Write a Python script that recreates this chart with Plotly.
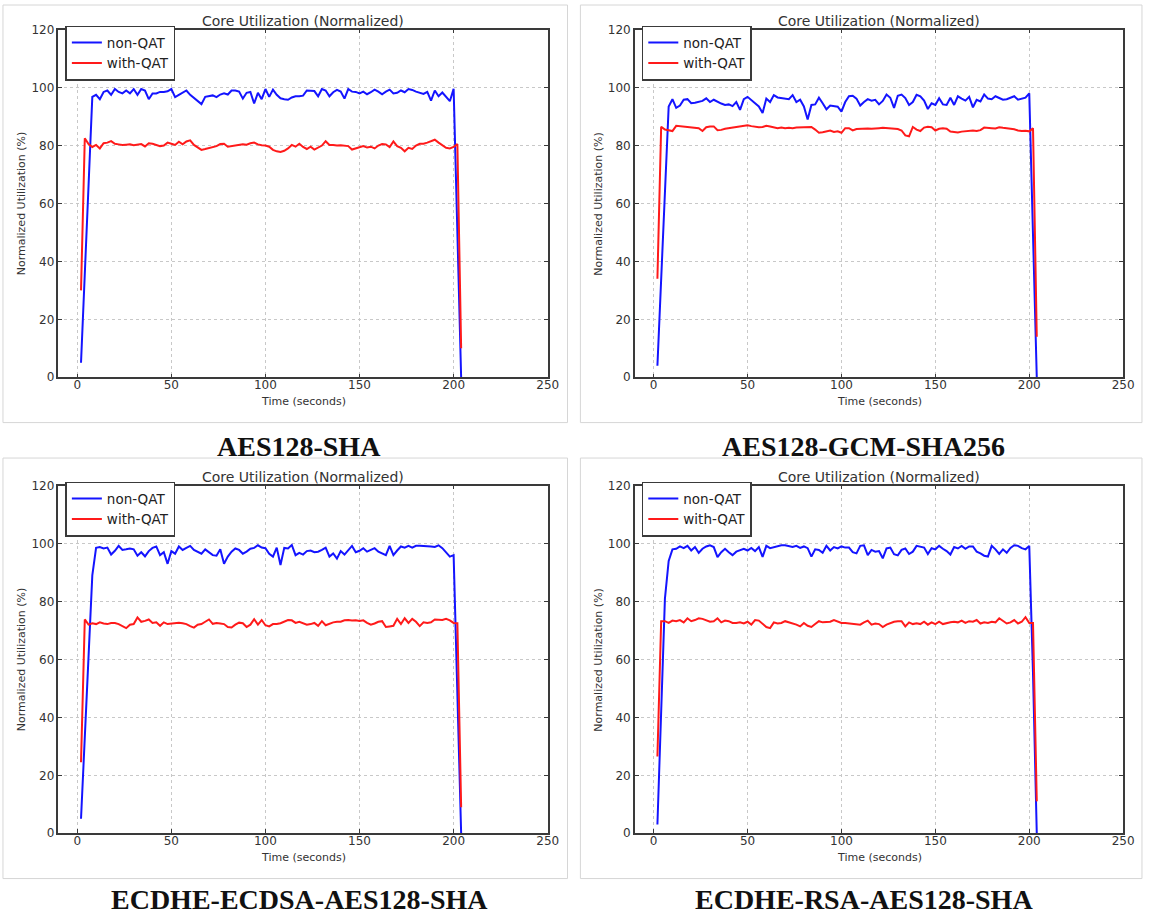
import plotly.graph_objects as go

W, H = 1151, 921

# ---------------- data ----------------
TIME = list(range(2, 206, 2))  # sampling grid, seconds (2 .. 204)

X_TICKS = [0, 50, 100, 150, 200, 250]
Y_TICKS = [0, 20, 40, 60, 80, 100, 120]

CAPTIONS = ["AES128-SHA", "AES128-GCM-SHA256",
            "ECDHE-ECDSA-AES128-SHA", "ECDHE-RSA-AES128-SHA"]
SERIES_NAMES = ["non-QAT", "with-QAT"]
PLOT_TITLE = "Core Utilization (Normalized)"
X_LABEL = "Time (seconds)"
Y_LABEL = "Normalized Utilization (%)"

# AES128-SHA
non_qat_aes128_sha = [
    5, 35, 66, 96.8, 97.5, 96, 98.5, 99, 97.5, 99.5,
    98.5, 98, 99, 98, 99.5, 97.5, 99.5, 99, 96, 98,
    98, 98.5, 98.5, 98.7, 99.5, 96.7, 97.5, 98.3, 99, 97.5,
    96.5, 95.5, 94.3, 96.8, 97, 97.3, 96.7, 97.6, 98, 97.6,
    99, 99, 98.6, 96.2, 98.2, 98.5, 94.5, 98.2, 96, 99.5,
    96.8, 99.3, 97.5, 96.3, 96, 95.8, 96.6, 97, 97, 97.2,
    99, 99, 98.8, 97, 99.5, 99, 97, 98.4, 99.2, 98.6,
    96.2, 99.5, 98.6, 98.5, 98, 98.6, 97.7, 98.4, 99.3, 98.6,
    97.7, 98.6, 99.3, 98, 98.2, 99, 98.4, 99.5, 99.2, 98.6,
    98.3, 97.8, 98.5, 95.5, 99, 97, 98.3, 96.8, 95.3, 99.6,
    49.8, 0,
]
with_qat_aes128_sha = [
    30, 82.5, 80.5, 79.5, 80.2, 79, 80.8, 81, 81.5, 80.6,
    80.4, 80.2, 80.3, 80.4, 80.1, 80.2, 80.5, 79.7, 80.8, 80.6,
    80.2, 79.8, 80, 81, 80.6, 80.2, 81.3, 80.4, 81.4, 81.8,
    80.2, 79.2, 78.5, 78.8, 79.2, 79.5, 79.8, 80.5, 80.6, 79.6,
    79.8, 79.8, 80.2, 80.4, 80.3, 80.8, 81, 80.4, 80.1, 80,
    79.6, 78.5, 78, 77.8, 78.2, 79, 80.2, 79.6, 80.6, 79.5,
    78.8, 79.6, 78.6, 79.4, 80, 81.5, 80.2, 80.2, 80, 80.1,
    79.9, 79.8, 78.6, 79, 79.4, 79.8, 79.3, 79.6, 79, 80,
    80.5, 80.4, 79.5, 81.4, 79.8, 79.2, 78, 79.2, 78.8, 80,
    80.6, 80.6, 81, 81.5, 82, 81, 80, 79.2, 79, 79.5,
    80.5, 10,
]

# AES128-GCM-SHA256
non_qat_aes128_gcm = [
    4, 33, 63, 93.5, 96, 93, 93.8, 95.8, 96, 94.6,
    94.8, 95.2, 95.4, 96.3, 95, 95.8, 95, 94.5, 94, 94.2,
    93.6, 95, 92.3, 96, 96.8, 95.8, 94.8, 93.5, 91.2, 96.2,
    95, 97.4, 96.6, 96.4, 96.2, 96, 97.4, 95, 95.8, 93.5,
    89, 94, 94.2, 96.5, 94.6, 92.5, 93.8, 93.6, 93.4, 91.7,
    95, 97, 97.2, 96.2, 93.8, 95, 96, 95.5, 95.8, 94.2,
    95.4, 97.6, 96.5, 93, 97.2, 97.6, 96.4, 94, 95, 97.5,
    97, 95.5, 92.6, 94.6, 94, 96.3, 94.2, 94, 96.5, 94,
    97, 96.2, 95.5, 96.8, 93.2, 95.8, 95.2, 97.6, 96.2, 96,
    97, 96.4, 95.8, 96, 96.4, 97, 95.8, 96.2, 96.5, 98,
    49, 0,
]
with_qat_aes128_gcm = [
    34, 86.5, 85.5, 85.2, 85, 86.8, 86.7, 86.5, 86.5, 86.2,
    86.3, 86, 85, 86.3, 86.6, 86.6, 85.3, 85.4, 85.8, 86,
    86, 86.2, 86.6, 86.8, 87, 86.7, 86.5, 86.3, 86.4, 86.8,
    86.6, 86.3, 86, 86.2, 86, 86.1, 86, 86.2, 86.3, 86.2,
    86.3, 86.4, 85.5, 84.4, 84.6, 85, 85.2, 84.7, 84.9, 84.4,
    86, 86, 85.2, 85.7, 85.8, 85.8, 85.9, 85.8, 86, 86,
    86.1, 86, 86, 86, 85.7, 85.2, 83.5, 83.2, 86.4, 85.5,
    85, 86.2, 86.5, 86.3, 85.2, 85.8, 86, 85.8, 84.8, 84.7,
    84.5, 84.8, 85, 85.2, 85.2, 85, 85.3, 86.2, 86, 86,
    85.9, 86.3, 86.1, 86, 85.8, 85.6, 85.2, 85, 85.1, 84.9,
    86, 14,
]

# ECDHE-ECDSA-AES128-SHA
non_qat_ecdsa = [
    5, 33, 61, 89, 98.5, 98.8, 98.3, 98.6, 96.2, 97.5,
    99.2, 97.8, 98, 98.3, 98, 95.8, 97, 95.6, 97.4, 98.5,
    99, 96, 97, 93, 97.4, 96.5, 99, 97.8, 98.5, 99.2,
    97.8, 97.2, 96.5, 98, 97, 96, 95.8, 98, 93, 95.5,
    97.2, 98.3, 97.8, 96.5, 97.2, 98.2, 98.5, 99.4, 98.6, 98.4,
    96.5, 95.5, 98.6, 92.6, 98.5, 98.3, 99.5, 96, 96.8, 96.2,
    97.4, 97.6, 97, 97.2, 97.8, 98.6, 95.5, 96.6, 94.8, 97.4,
    96.2, 97.8, 99.2, 97, 97.5, 98.4, 97.2, 97.8, 98.4, 97.2,
    96.5, 96, 99.2, 96, 97.6, 99, 98.6, 99.2, 98.6, 99.2,
    99.2, 99.2, 99.2, 99, 98.8, 99.4, 98.4, 97, 95.5, 96,
    48, 0,
]
with_qat_ecdsa = [
    24.5, 73.8, 72, 72.5, 72.2, 72.8, 72.4, 72.2, 72.6, 72.6,
    72.2, 71.5, 70.8, 72, 72.2, 74.5, 73, 73.3, 73.8, 72.6,
    72.8, 71.6, 72.8, 72.2, 72.4, 72.5, 72.7, 72.5, 72.2, 71.5,
    71, 72, 72.2, 73, 73.8, 72.3, 72.6, 72.4, 72.2, 71.2,
    71, 72, 72.7, 72.5, 71.2, 72, 73.9, 72, 73.6, 71.8,
    71.4, 72.2, 72.2, 72.5, 73, 73.6, 73.5, 72.6, 73, 72.6,
    72, 72.2, 72.6, 71.6, 73.2, 71.8, 72.4, 72.8, 73, 73,
    73.5, 73.6, 73.4, 73.5, 73.3, 73.5, 72.6, 72, 72.4, 73,
    73.2, 71.2, 71.4, 71.6, 74, 72.2, 74.2, 72.6, 74, 73,
    71.5, 72.8, 72.6, 72.8, 73.8, 73.6, 73.6, 74, 73.5, 72.6,
    72.5, 9,
]

# ECDHE-RSA-AES128-SHA
non_qat_rsa = [
    3, 42, 81, 94, 98, 98.2, 99, 98.4, 99.2, 97.6,
    98.8, 96.8, 98.2, 99, 99.4, 98.8, 95.3, 97, 98.2, 97,
    96, 97.2, 97.6, 98.2, 97.6, 98.5, 97.4, 98.8, 95.4, 99.2,
    98.4, 98.8, 99.2, 99.4, 99.4, 99.2, 98.8, 99.2, 98.5, 99,
    98.4, 95.5, 98, 97.8, 96.8, 99.2, 97.6, 98.8, 98.3, 99,
    98.6, 98.6, 97, 96.6, 99.2, 99.4, 96, 97.8, 97.2, 97.4,
    94.9, 98.3, 98.6, 96.3, 95.9, 97.8, 98.3, 96.4, 97.2, 99.2,
    98.8, 98.6, 96.4, 98.4, 98, 99.2, 98.2, 97.4, 96.2, 98.8,
    98.3, 99.2, 98.2, 99, 99, 97.2, 96.6, 95.8, 95.5, 99.2,
    98, 96.4, 98, 96.8, 98.5, 99.4, 99.2, 98.4, 98, 99.2,
    55, 0,
]
with_qat_rsa = [
    26.5, 73.2, 73.2, 72.6, 73.4, 73.2, 73.6, 72.8, 74.2, 73.2,
    73.6, 74.2, 74, 73.4, 73, 73.2, 74.2, 72.8, 73.4, 73.2,
    72.6, 72.6, 72.8, 72.4, 73, 72, 73.6, 73.4, 72.4, 71.2,
    70.8, 72.8, 72.4, 72.6, 73.2, 72.8, 72.6, 72, 71.4, 72.6,
    71.6, 71.2, 72.2, 73.2, 72.8, 72.8, 73, 73.6, 73.2, 72.6,
    72.6, 72.4, 72.2, 72, 72, 72.8, 73.4, 72, 72.4, 72.2,
    71.2, 72, 72.6, 73, 73.2, 73.2, 71.4, 72.8, 72.2, 72.5,
    72.2, 73, 72, 72.8, 72.2, 73, 72.2, 72.6, 72.8, 73,
    72.8, 73.4, 72.6, 73.2, 73, 73.6, 72.4, 72.8, 72.6, 73,
    72.8, 74.2, 73.2, 72.4, 72.8, 73.6, 72.4, 73, 74.6, 72.6,
    72.6, 11,
]

NON_QAT = [non_qat_aes128_sha, non_qat_aes128_gcm, non_qat_ecdsa, non_qat_rsa]
WITH_QAT = [with_qat_aes128_sha, with_qat_aes128_gcm, with_qat_ecdsa, with_qat_rsa]

# ---------------- layout geometry (pixels) ----------------
def px(x):
    return x / W

def py(y):
    return 1 - y / H

# plot boxes: (left, right, top, bottom)
BOXES = [(59, 553, 23, 376), (641, 1134, 23, 376),
         (59, 553, 486, 839), (641, 1134, 486, 839)]
CARDS = [(3, -2, 573, 422), (586, -2, 1153, 422),
         (3, 458, 573, 885), (586, 458, 1153, 885)]
CAPTION_POS = [(302, 446), (872, 446), (302, 906), (872, 906)]

BLUE = "#1414ff"
RED = "#ff1a1a"
FRAME = "#3a3a3a"
TEXT = "#333333"
FONT = "DejaVu Sans"

fig = go.Figure()
layout = dict(
    width=W, height=H,
    margin=dict(l=0, r=0, t=0, b=0),
    paper_bgcolor="white", plot_bgcolor="white",
    showlegend=True,
    annotations=[], shapes=[],
)

for i in range(4):
    n = i + 1
    sfx = "" if n == 1 else str(n)
    xa, ya = "x" + sfx, "y" + sfx
    leg = "legend" + sfx
    l, r, t, b = BOXES[i]

    fig.add_trace(go.Scatter(x=TIME, y=NON_QAT[i], mode="lines", name=SERIES_NAMES[0],
                             line=dict(color=BLUE, width=2), xaxis=xa, yaxis=ya,
                             legend=leg, hoverinfo="skip"))
    fig.add_trace(go.Scatter(x=TIME, y=WITH_QAT[i], mode="lines", name=SERIES_NAMES[1],
                             line=dict(color=RED, width=2), xaxis=xa, yaxis=ya,
                             legend=leg, hoverinfo="skip"))

    common = dict(showline=True, linecolor=FRAME, linewidth=1.5, mirror="allticks",
                  ticks="inside", ticklen=4, tickwidth=1, tickcolor=FRAME,
                  showgrid=True, gridcolor="#c8c8c8", griddash="dot", gridwidth=1,
                  zeroline=False, tickfont=dict(family=FONT, size=12, color=TEXT),
                  fixedrange=True)
    layout["xaxis" + sfx] = dict(common, domain=[px(l), px(r)], anchor=ya,
                                 range=[-10, 250], tickmode="array", tickvals=X_TICKS,
                                 ticktext=[str(v) for v in X_TICKS],
                                 ticklabelstandoff=-4)
    layout["yaxis" + sfx] = dict(common, domain=[py(b), py(t)], anchor=xa,
                                 range=[0, 120], tickmode="array", tickvals=Y_TICKS,
                                 ticktext=[str(v) for v in Y_TICKS])

    layout[leg] = dict(x=px(l + 7), y=py(t - 4), xanchor="left", yanchor="top",
                       bgcolor="white", bordercolor=FRAME, borderwidth=1.5,
                       font=dict(family=FONT, size=13.5, color="#222222"),
                       entrywidth=72, entrywidthmode="pixels",
                       tracegroupgap=0, itemclick=False, itemdoubleclick=False)

    cx = (l + r) / 2
    layout["annotations"] += [
        dict(text=PLOT_TITLE, x=px(cx), y=py(t - 9), xref="paper", yref="paper",
             showarrow=False, xanchor="center", yanchor="middle",
             font=dict(family=FONT, size=14, color=TEXT)),
        dict(text=X_LABEL, x=px(cx), y=py(b + 25), xref="paper", yref="paper",
             showarrow=False, xanchor="center", yanchor="middle",
             font=dict(family=FONT, size=11, color=TEXT)),
        dict(text=Y_LABEL, x=px(l - 37), y=py((t + b) / 2), xref="paper", yref="paper",
             showarrow=False, xanchor="center", yanchor="middle", textangle=-90,
             font=dict(family=FONT, size=11, color=TEXT)),
        dict(text="<b>%s</b>" % CAPTIONS[i], x=px(CAPTION_POS[i][0]), y=py(CAPTION_POS[i][1]),
             xref="paper", yref="paper", showarrow=False, xanchor="center", yanchor="middle",
             font=dict(family="Liberation Serif", size=28, color="#111111")),
    ]
    cx0, cy0, cx1, cy1 = CARDS[i]
    layout["shapes"].append(dict(type="rect", xref="paper", yref="paper",
                                 x0=px(cx0), x1=px(cx1), y0=py(cy1), y1=py(cy0),
                                 line=dict(color="#d6d6d6", width=1), layer="below"))

fig.update_layout(**layout)
fig.write_html("out.html", config={"displayModeBar": False})
